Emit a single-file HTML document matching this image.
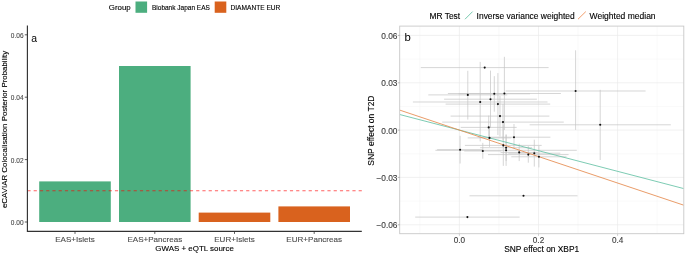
<!DOCTYPE html>
<html><head><meta charset="utf-8"><title>Figure</title>
<style>html,body{margin:0;padding:0;background:#fff;}svg{display:block}text{font-family:"Liberation Sans",sans-serif;stroke-width:0.12px;}</style></head><body>
<svg width="685" height="253" viewBox="0 0 685 253">
<rect width="685" height="253" fill="#fff"/>
<g id="legendA">
<text x="108.8" y="10.3" font-size="7.9" fill="#000" stroke="#000">Group</text>
<rect x="135.5" y="1.5" width="11.6" height="11.3" fill="#4cae7f"/>
<text x="152" y="9.8" font-size="6.5" fill="#000" stroke="#000">Biobank Japan EAS</text>
<rect x="214.7" y="1.5" width="11.6" height="11.3" fill="#d9621e"/>
<text x="230.5" y="9.8" font-size="6.6" fill="#000" stroke="#000">DIAMANTE EUR</text>
</g>
<g id="plotA">
<rect x="39.2" y="181.4" width="71.6" height="40.6" fill="#4cae7f"/>
<rect x="119.0" y="66.0" width="71.6" height="156.0" fill="#4cae7f"/>
<rect x="198.7" y="212.6" width="71.6" height="9.4" fill="#d9621e"/>
<rect x="278.4" y="206.4" width="71.6" height="15.6" fill="#d9621e"/>
<line x1="27.4" x2="361.8" y1="190.8" y2="190.8" stroke="#ff0000" stroke-opacity="0.62" stroke-width="1.1" stroke-dasharray="3.2 3.05"/>
<path d="M27.4 25.5V231.3H361.8" fill="none" stroke="#333" stroke-width="1.15"/>
<line x1="24.799999999999997" x2="27.4" y1="222.0" y2="222.0" stroke="#333" stroke-width="0.8"/>
<text x="23.5" y="225.0" font-size="6.5" fill="#4d4d4d" stroke="#4d4d4d" text-anchor="end">0.00</text>
<line x1="24.799999999999997" x2="27.4" y1="159.6" y2="159.6" stroke="#333" stroke-width="0.8"/>
<text x="23.5" y="162.6" font-size="6.5" fill="#4d4d4d" stroke="#4d4d4d" text-anchor="end">0.02</text>
<line x1="24.799999999999997" x2="27.4" y1="97.2" y2="97.2" stroke="#333" stroke-width="0.8"/>
<text x="23.5" y="100.2" font-size="6.5" fill="#4d4d4d" stroke="#4d4d4d" text-anchor="end">0.04</text>
<line x1="24.799999999999997" x2="27.4" y1="34.8" y2="34.8" stroke="#333" stroke-width="0.8"/>
<text x="23.5" y="37.8" font-size="6.5" fill="#4d4d4d" stroke="#4d4d4d" text-anchor="end">0.06</text>
<line x1="75.0" x2="75.0" y1="231.3" y2="233.9" stroke="#333" stroke-width="0.8"/>
<text x="75.0" y="241.5" font-size="8.05" fill="#4d4d4d" stroke="#4d4d4d" text-anchor="middle">EAS+Islets</text>
<line x1="154.8" x2="154.8" y1="231.3" y2="233.9" stroke="#333" stroke-width="0.8"/>
<text x="154.8" y="241.5" font-size="8.05" fill="#4d4d4d" stroke="#4d4d4d" text-anchor="middle">EAS+Pancreas</text>
<line x1="234.5" x2="234.5" y1="231.3" y2="233.9" stroke="#333" stroke-width="0.8"/>
<text x="234.5" y="241.5" font-size="8.05" fill="#4d4d4d" stroke="#4d4d4d" text-anchor="middle">EUR+Islets</text>
<line x1="314.2" x2="314.2" y1="231.3" y2="233.9" stroke="#333" stroke-width="0.8"/>
<text x="314.2" y="241.5" font-size="8.05" fill="#4d4d4d" stroke="#4d4d4d" text-anchor="middle">EUR+Pancreas</text>
<text x="194.6" y="250.6" font-size="7.95" fill="#000" stroke="#000" text-anchor="middle">GWAS + eQTL source</text>
<text transform="translate(7.0 129.4) rotate(-90)" font-size="7.9" fill="#000" stroke="#000" text-anchor="middle">eCAVIAR Colocalisation Posterior Probability</text>
<text transform="translate(31.2 41.8) scale(0.9 1)" font-size="11.6" fill="black">a</text>
</g>
<g id="legendB">
<text x="429.5" y="18.8" font-size="8.4" fill="#000" stroke="#000">MR Test</text>
<line x1="465" y1="19.2" x2="472.6" y2="11.6" stroke="#66c2a5" stroke-width="0.9"/>
<text x="476.6" y="18.8" font-size="8.45" fill="#000" stroke="#000">Inverse variance weighted</text>
<line x1="578" y1="19.2" x2="585.8" y2="11.6" stroke="#f0925a" stroke-width="0.9"/>
<text x="589.6" y="18.8" font-size="8.5" fill="#000" stroke="#000">Weighted median</text>
</g>
<g id="plotB">
<clipPath id="cp"><rect x="399.7" y="26.1" width="284.1" height="207.6"/></clipPath>
<rect x="399.7" y="26.1" width="284.1" height="207.6" fill="#fff"/>
<g clip-path="url(#cp)">
<line x1="419.8" x2="419.8" y1="26.1" y2="233.7" stroke="#f3f3f3" stroke-width="0.5"/>
<line x1="498.9" x2="498.9" y1="26.1" y2="233.7" stroke="#f3f3f3" stroke-width="0.5"/>
<line x1="578.0" x2="578.0" y1="26.1" y2="233.7" stroke="#f3f3f3" stroke-width="0.5"/>
<line x1="657.1" x2="657.1" y1="26.1" y2="233.7" stroke="#f3f3f3" stroke-width="0.5"/>
<line x1="399.7" x2="683.8" y1="201.1" y2="201.1" stroke="#f3f3f3" stroke-width="0.5"/>
<line x1="399.7" x2="683.8" y1="153.8" y2="153.8" stroke="#f3f3f3" stroke-width="0.5"/>
<line x1="399.7" x2="683.8" y1="106.4" y2="106.4" stroke="#f3f3f3" stroke-width="0.5"/>
<line x1="399.7" x2="683.8" y1="59.1" y2="59.1" stroke="#f3f3f3" stroke-width="0.5"/>
<line x1="459.4" x2="459.4" y1="26.1" y2="233.7" stroke="#ebebeb" stroke-width="0.7"/>
<line x1="538.5" x2="538.5" y1="26.1" y2="233.7" stroke="#ebebeb" stroke-width="0.7"/>
<line x1="617.6" x2="617.6" y1="26.1" y2="233.7" stroke="#ebebeb" stroke-width="0.7"/>
<line x1="399.7" x2="683.8" y1="224.8" y2="224.8" stroke="#ebebeb" stroke-width="0.7"/>
<line x1="399.7" x2="683.8" y1="177.4" y2="177.4" stroke="#ebebeb" stroke-width="0.7"/>
<line x1="399.7" x2="683.8" y1="130.1" y2="130.1" stroke="#ebebeb" stroke-width="0.7"/>
<line x1="399.7" x2="683.8" y1="82.8" y2="82.8" stroke="#ebebeb" stroke-width="0.7"/>
<line x1="399.7" x2="683.8" y1="35.4" y2="35.4" stroke="#ebebeb" stroke-width="0.7"/>
<line x1="420.8" x2="548.6" y1="67.6" y2="67.6" stroke="#c4c4c4" stroke-width="0.7"/>
<line x1="428.3" x2="507.3" y1="94.9" y2="94.9" stroke="#c4c4c4" stroke-width="0.7"/>
<line x1="467.8" x2="467.8" y1="70.8" y2="119.6" stroke="#c4c4c4" stroke-width="0.7"/>
<line x1="412.9" x2="547.5" y1="102.0" y2="102.0" stroke="#c4c4c4" stroke-width="0.7"/>
<line x1="480.2" x2="480.2" y1="61.9" y2="141.4" stroke="#c4c4c4" stroke-width="0.7"/>
<line x1="444.1" x2="536.9" y1="99.2" y2="99.2" stroke="#c4c4c4" stroke-width="0.7"/>
<line x1="490.5" x2="490.5" y1="70.6" y2="128" stroke="#c4c4c4" stroke-width="0.7"/>
<line x1="458.6" x2="530.0" y1="93.8" y2="93.8" stroke="#c4c4c4" stroke-width="0.7"/>
<line x1="494.3" x2="494.3" y1="76.1" y2="111.7" stroke="#c4c4c4" stroke-width="0.7"/>
<line x1="447.9" x2="560.9" y1="93.5" y2="93.5" stroke="#c4c4c4" stroke-width="0.7"/>
<line x1="504.4" x2="504.4" y1="56.8" y2="130" stroke="#c4c4c4" stroke-width="0.7"/>
<line x1="445.6" x2="550.2" y1="104.1" y2="104.1" stroke="#c4c4c4" stroke-width="0.7"/>
<line x1="497.9" x2="497.9" y1="73.1" y2="135" stroke="#c4c4c4" stroke-width="0.7"/>
<line x1="450.6" x2="549.4" y1="116.1" y2="116.1" stroke="#c4c4c4" stroke-width="0.7"/>
<line x1="500.0" x2="500.0" y1="96" y2="136.5" stroke="#c4c4c4" stroke-width="0.7"/>
<line x1="442.2" x2="563.8" y1="122.1" y2="122.1" stroke="#c4c4c4" stroke-width="0.7"/>
<line x1="503.0" x2="503.0" y1="104" y2="140.5" stroke="#c4c4c4" stroke-width="0.7"/>
<line x1="505.6" x2="645.6" y1="91.0" y2="91.0" stroke="#c4c4c4" stroke-width="0.7"/>
<line x1="575.6" x2="575.6" y1="50.3" y2="129.9" stroke="#c4c4c4" stroke-width="0.7"/>
<line x1="529.6" x2="670.8" y1="124.8" y2="124.8" stroke="#c4c4c4" stroke-width="0.7"/>
<line x1="600.2" x2="600.2" y1="89.8" y2="160.0" stroke="#c4c4c4" stroke-width="0.7"/>
<line x1="460.7" x2="516.7" y1="127.4" y2="127.4" stroke="#c4c4c4" stroke-width="0.7"/>
<line x1="488.7" x2="488.7" y1="115.6" y2="139" stroke="#c4c4c4" stroke-width="0.7"/>
<line x1="467.7" x2="511.3" y1="137.9" y2="137.9" stroke="#c4c4c4" stroke-width="0.7"/>
<line x1="489.5" x2="489.5" y1="128.5" y2="146.9" stroke="#c4c4c4" stroke-width="0.7"/>
<line x1="477.6" x2="550.4" y1="137.2" y2="137.2" stroke="#c4c4c4" stroke-width="0.7"/>
<line x1="514.0" x2="514.0" y1="124" y2="148.5" stroke="#c4c4c4" stroke-width="0.7"/>
<line x1="437.1" x2="483.1" y1="149.7" y2="149.7" stroke="#c4c4c4" stroke-width="0.7"/>
<line x1="460.1" x2="460.1" y1="135.8" y2="163.5" stroke="#c4c4c4" stroke-width="0.7"/>
<line x1="464.3" x2="501.3" y1="151.0" y2="151.0" stroke="#c4c4c4" stroke-width="0.7"/>
<line x1="482.8" x2="482.8" y1="142.9" y2="158.7" stroke="#c4c4c4" stroke-width="0.7"/>
<line x1="464.9" x2="541.7" y1="145.4" y2="145.4" stroke="#c4c4c4" stroke-width="0.7"/>
<line x1="503.3" x2="503.3" y1="124.5" y2="165.9" stroke="#c4c4c4" stroke-width="0.7"/>
<line x1="480.1" x2="532.1" y1="147.7" y2="147.7" stroke="#c4c4c4" stroke-width="0.7"/>
<line x1="506.1" x2="506.1" y1="134.2" y2="161" stroke="#c4c4c4" stroke-width="0.7"/>
<line x1="435.4" x2="576.8" y1="150.3" y2="150.3" stroke="#c4c4c4" stroke-width="0.7"/>
<line x1="506.1" x2="506.1" y1="135" y2="165.9" stroke="#c4c4c4" stroke-width="0.7"/>
<line x1="500.6" x2="537.8" y1="152.4" y2="152.4" stroke="#c4c4c4" stroke-width="0.7"/>
<line x1="519.2" x2="519.2" y1="143.7" y2="161.1" stroke="#c4c4c4" stroke-width="0.7"/>
<line x1="488.0" x2="568.6" y1="154.6" y2="154.6" stroke="#c4c4c4" stroke-width="0.7"/>
<line x1="528.3" x2="528.3" y1="146.2" y2="162.7" stroke="#c4c4c4" stroke-width="0.7"/>
<line x1="508.3" x2="560.3" y1="153.2" y2="153.2" stroke="#c4c4c4" stroke-width="0.7"/>
<line x1="534.3" x2="534.3" y1="139.7" y2="166.6" stroke="#c4c4c4" stroke-width="0.7"/>
<line x1="511.3" x2="566.5" y1="156.8" y2="156.8" stroke="#c4c4c4" stroke-width="0.7"/>
<line x1="538.9" x2="538.9" y1="146.1" y2="167.4" stroke="#c4c4c4" stroke-width="0.7"/>
<line x1="469.5" x2="577.5" y1="195.8" y2="195.8" stroke="#c4c4c4" stroke-width="0.7"/>
<line x1="415.2" x2="519.6" y1="217.1" y2="217.1" stroke="#c4c4c4" stroke-width="0.7"/>
<line x1="399.7" y1="114.5" x2="683.8" y2="188.6" stroke="#66c2a5" stroke-width="0.85"/>
<line x1="399.7" y1="110.1" x2="683.8" y2="205.2" stroke="#e58a4e" stroke-width="0.85"/>
<circle cx="484.7" cy="67.6" r="1.05" fill="#111"/>
<circle cx="467.8" cy="94.9" r="1.05" fill="#111"/>
<circle cx="480.2" cy="102.0" r="1.05" fill="#111"/>
<circle cx="490.5" cy="99.2" r="1.05" fill="#111"/>
<circle cx="494.3" cy="93.8" r="1.05" fill="#111"/>
<circle cx="504.4" cy="93.5" r="1.05" fill="#111"/>
<circle cx="497.9" cy="104.1" r="1.05" fill="#111"/>
<circle cx="500.0" cy="116.1" r="1.05" fill="#111"/>
<circle cx="503.0" cy="122.1" r="1.05" fill="#111"/>
<circle cx="575.6" cy="91.0" r="1.05" fill="#111"/>
<circle cx="600.2" cy="124.8" r="1.05" fill="#111"/>
<circle cx="488.7" cy="127.4" r="1.05" fill="#111"/>
<circle cx="489.5" cy="137.9" r="1.05" fill="#111"/>
<circle cx="514.0" cy="137.2" r="1.05" fill="#111"/>
<circle cx="460.1" cy="149.7" r="1.05" fill="#111"/>
<circle cx="482.8" cy="151.0" r="1.05" fill="#111"/>
<circle cx="503.3" cy="145.4" r="1.05" fill="#111"/>
<circle cx="506.1" cy="147.7" r="1.05" fill="#111"/>
<circle cx="506.1" cy="150.3" r="1.05" fill="#111"/>
<circle cx="519.2" cy="152.4" r="1.05" fill="#111"/>
<circle cx="528.3" cy="154.6" r="1.05" fill="#111"/>
<circle cx="534.3" cy="153.2" r="1.05" fill="#111"/>
<circle cx="538.9" cy="156.8" r="1.05" fill="#111"/>
<circle cx="523.5" cy="195.8" r="1.05" fill="#111"/>
<circle cx="467.4" cy="217.1" r="1.05" fill="#111"/>
</g>
<rect x="399.7" y="26.1" width="284.1" height="207.6" fill="none" stroke="#c8c8c8" stroke-width="0.9"/>
<line x1="397.8" x2="399.7" y1="224.8" y2="224.8" stroke="#999" stroke-width="0.7"/>
<text x="397.5" y="228.4" font-size="8.35" fill="#3d3d3d" stroke="#3d3d3d" text-anchor="end">−0.06</text>
<line x1="397.8" x2="399.7" y1="177.4" y2="177.4" stroke="#999" stroke-width="0.7"/>
<text x="397.5" y="181.0" font-size="8.35" fill="#3d3d3d" stroke="#3d3d3d" text-anchor="end">−0.03</text>
<line x1="397.8" x2="399.7" y1="130.1" y2="130.1" stroke="#999" stroke-width="0.7"/>
<text x="397.5" y="133.7" font-size="8.35" fill="#3d3d3d" stroke="#3d3d3d" text-anchor="end">0.00</text>
<line x1="397.8" x2="399.7" y1="82.8" y2="82.8" stroke="#999" stroke-width="0.7"/>
<text x="397.5" y="86.4" font-size="8.35" fill="#3d3d3d" stroke="#3d3d3d" text-anchor="end">0.03</text>
<line x1="397.8" x2="399.7" y1="35.4" y2="35.4" stroke="#999" stroke-width="0.7"/>
<text x="397.5" y="39.0" font-size="8.35" fill="#3d3d3d" stroke="#3d3d3d" text-anchor="end">0.06</text>
<line x1="459.4" x2="459.4" y1="233.7" y2="235.89999999999998" stroke="#c0c0c0" stroke-width="0.7"/>
<text x="459.4" y="242.8" font-size="8.2" fill="#3d3d3d" stroke="#3d3d3d" text-anchor="middle">0.0</text>
<line x1="538.5" x2="538.5" y1="233.7" y2="235.89999999999998" stroke="#c0c0c0" stroke-width="0.7"/>
<text x="538.5" y="242.8" font-size="8.2" fill="#3d3d3d" stroke="#3d3d3d" text-anchor="middle">0.2</text>
<line x1="617.6" x2="617.6" y1="233.7" y2="235.89999999999998" stroke="#c0c0c0" stroke-width="0.7"/>
<text x="617.6" y="242.8" font-size="8.2" fill="#3d3d3d" stroke="#3d3d3d" text-anchor="middle">0.4</text>
<text x="541.7" y="251.8" font-size="8.36" fill="#000" stroke="#000" text-anchor="middle">SNP effect on XBP1</text>
<text transform="translate(373.5 130.6) rotate(-90)" font-size="8.47" fill="#000" stroke="#000" text-anchor="middle">SNP effect on T2D</text>
<text x="404.6" y="41.1" font-size="11.3" fill="black">b</text>
</g>
</svg></body></html>
